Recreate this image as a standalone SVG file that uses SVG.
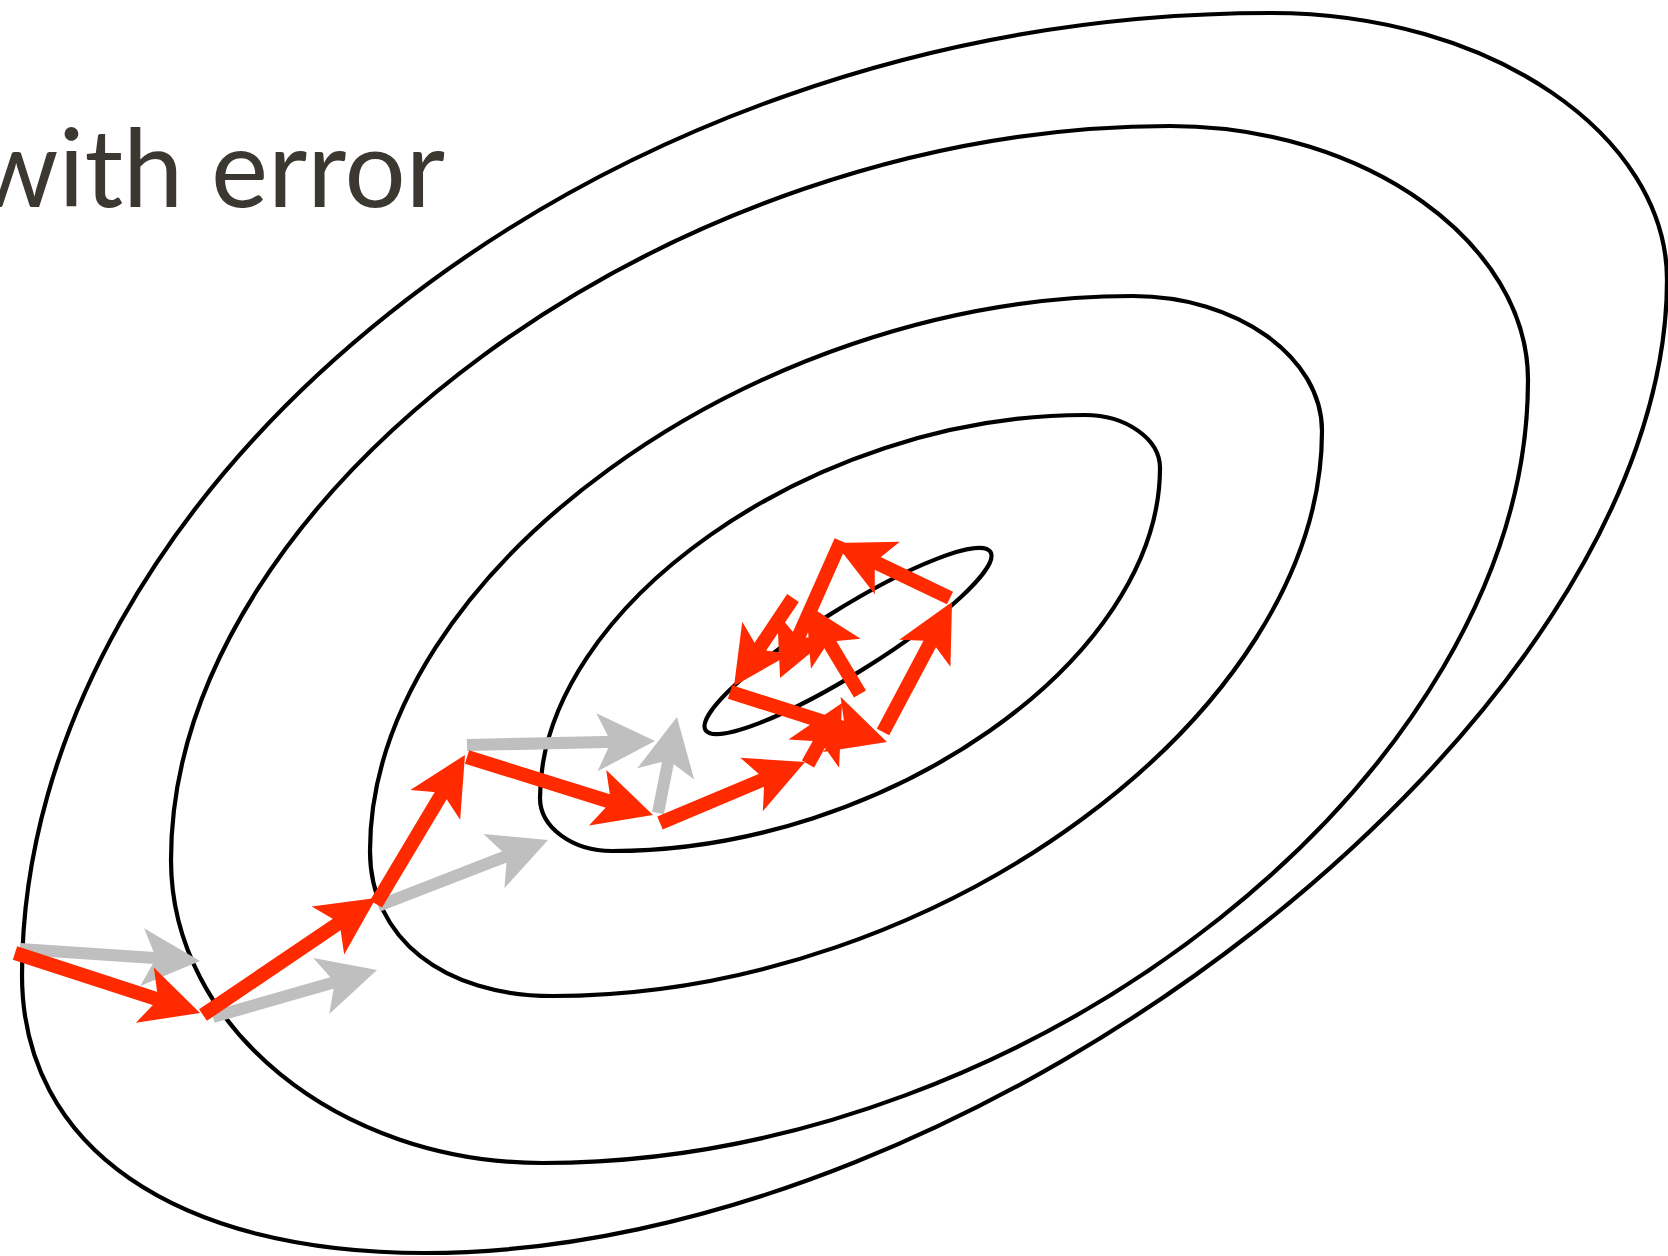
<svg xmlns="http://www.w3.org/2000/svg" width="1668" height="1256" viewBox="0 0 1668 1256">
<style>
.contour{fill:none;stroke:#000;stroke-width:4.2}
.red{stroke:#FF2A00;stroke-width:14;fill:none;marker-end:url(#hr)}
.gray{stroke:#BFBFBF;stroke-width:12;fill:none;marker-end:url(#hg)}
.title{font-family:Lato,"Open Sans",sans-serif;font-size:108px;fill:#3B3831}
</style>
<defs>
<marker id="hr" markerUnits="userSpaceOnUse" viewBox="-25 -32 66 64" refX="0" refY="0" markerWidth="66" markerHeight="64" orient="auto" overflow="visible">
<path d="M38,0 L-20,-29 L-6,0 L-20,29 Z" fill="#FF2A00"/>
</marker>
<marker id="hg" markerUnits="userSpaceOnUse" viewBox="-25 -32 66 64" refX="0" refY="0" markerWidth="66" markerHeight="64" orient="auto" overflow="visible">
<path d="M38,0 L-20,-29 L-6,0 L-20,29 Z" fill="#BFBFBF"/>
</marker>
</defs>
<rect width="1668" height="1256" fill="#fff"/>
<text class="title" x="445" y="207" text-anchor="end">with error</text>
<g id="contours">
<path id="c1" class="contour" d="M1271,13 C1490,13 1667,135 1667,280 C1667,716 984,1253 425,1253 C175,1253 22,1147 22,975 C22,494 584,13 1271,13 Z"/>
<path id="c2" class="contour" d="M1170,126 C1367,126 1528,244 1528,380 C1528,771 1035,1163 543,1163 C338,1163 171,1027 171,860 C171,493 671,126 1170,126 Z"/>
<path id="c3" class="contour" d="M1133,296 C1237,296 1322,357 1322,431 C1322,713 938,996 553,996 C443,996 370,938 370,851 C370,574 752,296 1133,296 Z"/>
<path id="c4" class="contour" d="M1085,415 C1126,415 1160,439 1160,468 C1160,660 886,851 612,851 C572,851 540,827 540,798 C540,607 813,415 1085,415 Z"/>
<ellipse id="c5" class="contour" cx="848" cy="641" rx="168" ry="32" transform="rotate(-32 848 641)"/>
</g>
<g id="connectors">
<line id="g1" class="gray" x1="20" y1="949" x2="162.1" y2="958.5"/>
<line id="g2" class="gray" x1="213" y1="1017" x2="340.5" y2="980.5"/>
<line id="g3" class="gray" x1="378" y1="906" x2="512.6" y2="853.8"/>
<line id="g4" class="gray" x1="467" y1="745" x2="617" y2="741.8"/>
<line id="g5" class="gray" x1="658" y1="813" x2="669.6" y2="754.3"/>
<line id="r1" class="red" x1="15" y1="953" x2="163.9" y2="1001.3"/>
<line id="r2" class="red" x1="203" y1="1015" x2="344.5" y2="919.3"/>
<line id="r3" class="red" x1="376" y1="904" x2="445.5" y2="787.6"/>
<line id="r4" class="red" x1="467" y1="757" x2="616.7" y2="803.7"/>
<line id="r5" class="red" x1="660" y1="823" x2="770" y2="776.7"/>
<line id="r6" class="red" x1="808" y1="764" x2="823.5" y2="736.2"/>
<line id="r7" class="red" x1="860" y1="694" x2="825.5" y2="636.6"/>
<line id="r8" class="red" x1="793" y1="598" x2="755.2" y2="654.4"/>
<line id="r9" class="red" x1="730" y1="692" x2="850.8" y2="730.5"/>
<line id="r10" class="red" x1="883" y1="732" x2="934.2" y2="635.6"/>
<line id="r11" class="red" x1="950" y1="598" x2="869.3" y2="559.4"/>
<line id="r12" class="red" x1="841" y1="541" x2="795.5" y2="643.3"/>
</g>
</svg>
